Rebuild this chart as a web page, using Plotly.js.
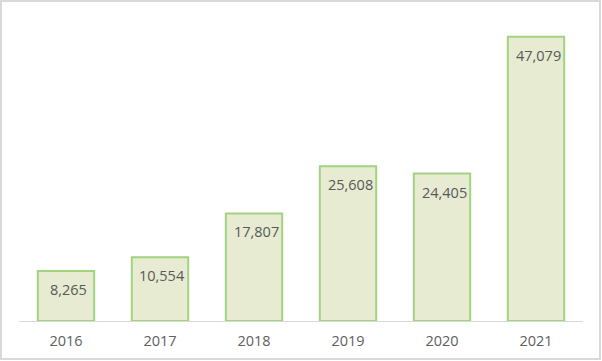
<!DOCTYPE html>
<html>
<head>
<meta charset="utf-8">
<script src="https://cdn.plot.ly/plotly-3.0.1.min.js"></script>
<style>
html,body{margin:0;padding:0;background:#fff;}
#wrap{position:relative;width:602px;height:361px;}
#chart{width:602px;height:361px;}
#frame{position:absolute;left:0;top:0;width:601px;height:360px;box-sizing:border-box;border:2px solid #d9d9d9;pointer-events:none;}
</style>
</head>
<body>
<div id="wrap"><div id="chart"></div><div id="frame"></div></div>
<script>
const years = ['2016','2017','2018','2019','2020','2021'];
const values = [8265, 10554, 17807, 25608, 24405, 47079];
const labels = values.map(v => v.toLocaleString('en-US'));

const trace = {
  type: 'bar',
  x: years,
  y: values,
  marker: {color: '#e6ebd1', line: {color: '#a3d281', width: 2}},
  hoverinfo: 'none'
};

const annotations = years.map((yr, i) => ({
  x: i, y: values[i], xref: 'x', yref: 'y',
  text: labels[i], showarrow: false,
  yanchor: 'top', xanchor: 'center',
  yshift: -7, xshift: 2,
  font: {family: 'Open Sans, sans-serif', size: 14.5, color: '#595959'}
}));

const layout = {
  width: 602, height: 361,
  margin: {l: 19, r: 19, t: 19, b: 40},
  paper_bgcolor: '#ffffff', plot_bgcolor: '#ffffff',
  bargap: 0.4,
  showlegend: false,
  font: {family: 'Open Sans, sans-serif', color: '#595959', size: 14},
  annotations: annotations,
  xaxis: {
    type: 'category',
    categoryarray: years, categoryorder: 'array',
    range: [-0.5, years.length - 0.5],
    showline: true, linecolor: '#d9d9d9', linewidth: 1,
    ticks: '', showgrid: false, zeroline: false,
    ticklabelstandoff: 7,
    tickfont: {family: 'Open Sans, sans-serif', size: 14.5, color: '#606060'}
  },
  yaxis: {
    range: [0, 50000], visible: false, showgrid: false, zeroline: false
  }
};

Plotly.newPlot('chart', [trace], layout, {displayModeBar: false, staticPlot: true});
</script>
</body>
</html>
